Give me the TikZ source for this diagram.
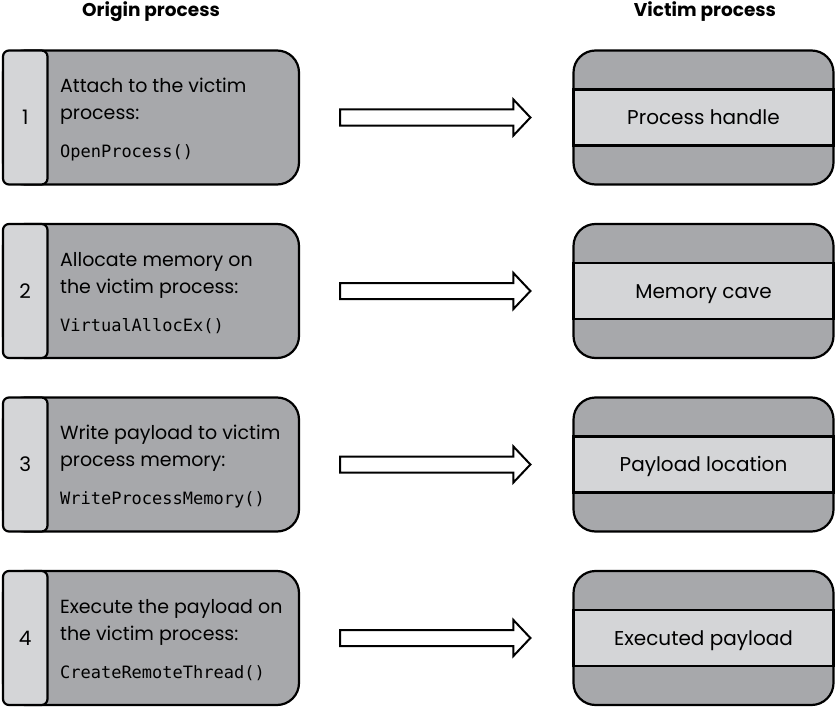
\documentclass[tikz,border=0pt]{standalone}
\usepackage{fontspec}
\setmainfont{Poppins}
\setmonofont{DejaVu Sans Mono}
\usepackage{xcolor}

\definecolor{boxgray}{RGB}{167,168,171}
\definecolor{tabgray}{RGB}{212,213,215}

\begin{document}
\begin{tikzpicture}
        [x=1pt,y=-1pt,line width=2.2pt,
        obox/.style={draw,fill=boxgray,rounded corners=22pt,minimum width=296pt,minimum height=134pt,inner sep=0pt},
        tab/.style={draw,fill=tabgray,rounded corners=6pt,minimum width=44.5pt,minimum height=134pt,inner sep=0pt,anchor=west,font=\fontsize{20}{20}\selectfont},
        desc/.style={anchor=west,align=left,inner sep=0pt,font=\fontsize{19}{27}\selectfont},
        vbox/.style={draw,fill=boxgray,rounded corners=22pt,minimum width=260pt,minimum height=134pt,inner sep=0pt},
        band/.style={draw,fill=tabgray,minimum width=260pt,minimum height=56pt,inner sep=0pt,text height=17pt,text depth=3pt,font=\fontsize{20}{20}\selectfont},
        head/.style={anchor=base,font=\fontsize{18.5}{18.5}\selectfont\bfseries},
        fatarrow/.style={draw,fill=white,line width=2pt,line join=miter}]

        \useasboundingbox (0,0) rectangle (836,709);

        \node[head] (ho) at (151,17) {Origin process};
        \node[head] (hv) at (705,17) {Victim process};

        \node[obox] (o1) at (151,117.5) {};
        \node[tab] (n1) at (o1.west) {1};
        \node[desc] (d1) at (59,119.5) {Attach to the victim\\process:\\[11pt]{\ttfamily\fontsize{17}{17}\selectfont OpenProcess()}};
        \node[vbox] (v1) at (703.5,117.5) {};
        \node[band] (b1) at (v1.center) {Process handle};
        \coordinate (a1) at ([xshift=40]o1.east);
        \coordinate (z1) at ([xshift=-42]v1.west);
        \draw[fatarrow] ([yshift=8]a1) -- ([xshift=-17,yshift=8]z1) -- ([xshift=-17,yshift=18]z1) -- (z1) -- ([xshift=-17,yshift=-18]z1) -- ([xshift=-17,yshift=-8]z1) -- ([yshift=-8]a1) -- cycle;

        \node[obox] (o2) at (151,291) {};
        \node[tab] (n2) at (o2.west) {2};
        \node[desc] (d2) at (59,293) {Allocate memory on\\the victim process:\\[11pt]{\ttfamily\fontsize{17}{17}\selectfont VirtualAllocEx()}};
        \node[vbox] (v2) at (703.5,291) {};
        \node[band] (b2) at (v2.center) {Memory cave};
        \coordinate (a2) at ([xshift=40]o2.east);
        \coordinate (z2) at ([xshift=-42]v2.west);
        \draw[fatarrow] ([yshift=8]a2) -- ([xshift=-17,yshift=8]z2) -- ([xshift=-17,yshift=18]z2) -- (z2) -- ([xshift=-17,yshift=-18]z2) -- ([xshift=-17,yshift=-8]z2) -- ([yshift=-8]a2) -- cycle;

        \node[obox] (o3) at (151,464.5) {};
        \node[tab] (n3) at (o3.west) {3};
        \node[desc] (d3) at (59,466.5) {Write payload to victim\\process memory:\\[11pt]{\ttfamily\fontsize{17}{17}\selectfont WriteProcessMemory()}};
        \node[vbox] (v3) at (703.5,464.5) {};
        \node[band] (b3) at (v3.center) {Payload location};
        \coordinate (a3) at ([xshift=40]o3.east);
        \coordinate (z3) at ([xshift=-42]v3.west);
        \draw[fatarrow] ([yshift=8]a3) -- ([xshift=-17,yshift=8]z3) -- ([xshift=-17,yshift=18]z3) -- (z3) -- ([xshift=-17,yshift=-18]z3) -- ([xshift=-17,yshift=-8]z3) -- ([yshift=-8]a3) -- cycle;

        \node[obox] (o4) at (151,638) {};
        \node[tab] (n4) at (o4.west) {4};
        \node[desc] (d4) at (59,640) {Execute the payload on\\the victim process:\\[11pt]{\ttfamily\fontsize{17}{17}\selectfont CreateRemoteThread()}};
        \node[vbox] (v4) at (703.5,638) {};
        \node[band] (b4) at (v4.center) {Executed payload};
        \coordinate (a4) at ([xshift=40]o4.east);
        \coordinate (z4) at ([xshift=-42]v4.west);
        \draw[fatarrow] ([yshift=8]a4) -- ([xshift=-17,yshift=8]z4) -- ([xshift=-17,yshift=18]z4) -- (z4) -- ([xshift=-17,yshift=-18]z4) -- ([xshift=-17,yshift=-8]z4) -- ([yshift=-8]a4) -- cycle;
    \end{tikzpicture}
\end{document}
